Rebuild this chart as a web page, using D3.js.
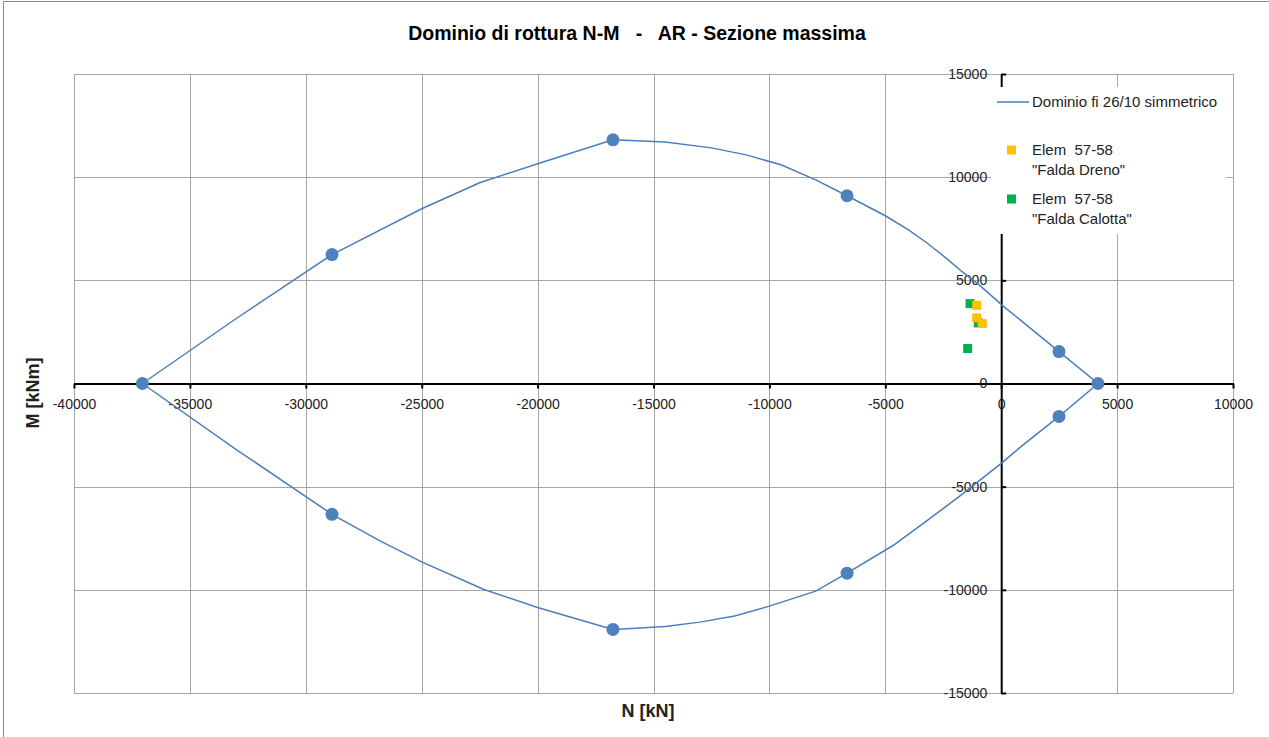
<!DOCTYPE html>
<html>
<head>
<meta charset="utf-8">
<script src="https://cdn.jsdelivr.net/npm/d3@7"></script>
<style>
  body { margin: 0; background: #fff; }
  svg { display: block; font-family: "Liberation Sans", Arial, sans-serif; }
</style>
</head>
<body>
<script>
// domain curve (N [kN], M [kNm])
const domainN = [-37050, -33000, -28870, -25000, -22500, -20000, -16750, -14500, -12500, -11000, -9500, -8000, -6650,
  -5000, -4000, -3200, -2400, -1700, -1000, 100, 2494, 4176,
  2494, 800, 0, -1777, -3214, -4650, -6650, -8000, -10000, -11500, -13000, -14500, -15580, -16750,
  -20000, -22340, -25000, -26800, -28870, -33000, -37050];
const domainM = [0, 3150, 6250, 8470, 9730, 10650, 11810, 11710, 11420, 11080, 10600, 9870, 9100,
  8130, 7450, 6810, 6100, 5430, 4830, 3740, 1548, 0,
  -1597, -3110, -3870, -5450, -6660, -7840, -9194, -10065, -10790, -11270, -11565, -11780, -11855, -11920,
  -10855, -9970, -8645, -7630, -6339, -3200, 0];

// highlighted points on the domain
const keyN = [-37050, -28870, -16750, -6650, 2494, 4176, 2494, -6650, -16750, -28870];
const keyM = [0, 6250, 11810, 9100, 1548, 0, -1597, -9194, -11920, -6339];

// Elem 57-58 "Falda Dreno"
const drenoN = [-1057, -1057, -816];
const drenoM = [3789, 3179, 2903];
// Elem 57-58 "Falda Calotta"
const calottaN = [-1345, -988, -1446];
const calottaM = [3871, 2937, 1694];

const xTicks = [-40000, -35000, -30000, -25000, -20000, -15000, -10000, -5000, 0, 5000, 10000];
const yTicks = [-15000, -10000, -5000, 0, 5000, 10000, 15000];

const width = 1269, height = 737;
const margin = {top: 74, right: 36, bottom: 44, left: 74};

const svg = d3.select('body').append('svg')
  .attr('width', width)
  .attr('height', height);

// outer chart border
svg.append('rect')
  .attr('x', 3.5).attr('y', 1.5)
  .attr('width', width).attr('height', height)
  .attr('fill', 'none').attr('stroke', '#8c8c8c');

const x = d3.scaleLinear().domain([-40000, 10000]).range([margin.left, width - margin.right]);
const y = d3.scaleLinear().domain([-15000, 15000]).range([height - margin.bottom, margin.top]);

const fmt = d => String(d);

// grid
svg.append('g')
  .selectAll('line')
  .data(xTicks)
  .join('line')
  .attr('x1', d => Math.round(x(d)) + 0.5).attr('x2', d => Math.round(x(d)) + 0.5)
  .attr('y1', y(15000)).attr('y2', y(-15000))
  .attr('stroke', '#a6a6a6');

svg.append('g')
  .selectAll('line')
  .data(yTicks)
  .join('line')
  .attr('y1', d => Math.round(y(d)) + 0.5).attr('y2', d => Math.round(y(d)) + 0.5)
  .attr('x1', x(-40000)).attr('x2', x(10000))
  .attr('stroke', '#a6a6a6');

// x axis through M = 0
const xAxis = svg.append('g')
  .attr('transform', 'translate(0,' + y(0) + ')')
  .call(d3.axisBottom(x).tickValues(xTicks).tickFormat(fmt).tickSize(5).tickPadding(11).tickSizeOuter(0));
xAxis.select('.domain').attr('stroke', '#000').attr('stroke-width', 2);
xAxis.selectAll('.tick line').attr('stroke', '#000').attr('stroke-width', 2);
xAxis.selectAll('text').attr('font-size', 14).attr('fill', '#222');

// y axis through N = 0 (ticks to the right, labels to the left)
const yAxis = svg.append('g')
  .attr('transform', 'translate(' + x(0) + ',0)')
  .call(d3.axisRight(y).tickValues(yTicks).tickSize(5).tickSizeOuter(0).tickFormat(''));
yAxis.select('.domain').attr('stroke', '#000').attr('stroke-width', 2);
yAxis.selectAll('.tick line').attr('stroke', '#000').attr('stroke-width', 2);

const yLabels = svg.append('g')
  .attr('transform', 'translate(' + x(0) + ',0)')
  .call(d3.axisLeft(y).tickValues(yTicks).tickFormat(fmt).tickSize(0).tickPadding(14));
yLabels.select('.domain').remove();
yLabels.selectAll('text').attr('font-size', 14).attr('fill', '#222');

// domain line
const line = d3.line().x(d => x(d[0])).y(d => y(d[1]));
svg.append('path')
  .datum(domainN.map((n, i) => [n, domainM[i]]))
  .attr('d', line)
  .attr('fill', 'none')
  .attr('stroke', '#4a7ebb')
  .attr('stroke-width', 1.5);

svg.append('g')
  .selectAll('circle')
  .data(keyN.map((n, i) => [n, keyM[i]]))
  .join('circle')
  .attr('cx', d => x(d[0]))
  .attr('cy', d => y(d[1]))
  .attr('r', 6.5)
  .attr('fill', '#4f81bd');

// load points
function squares(ns, ms, color) {
  svg.append('g')
    .selectAll('rect')
    .data(ns.map((n, i) => [n, ms[i]]))
    .join('rect')
    .attr('x', d => x(d[0]) - 4.5)
    .attr('y', d => y(d[1]) - 4.5)
    .attr('width', 9).attr('height', 9)
    .attr('fill', color);
}
squares(calottaN, calottaM, '#00b050');
squares(drenoN, drenoM, '#ffc000');

// legend
const lg = svg.append('g');
lg.append('rect')
  .attr('x', 991).attr('y', 87).attr('width', 235).attr('height', 147)
  .attr('fill', '#fff');
lg.append('line')
  .attr('x1', 997).attr('x2', 1029).attr('y1', 102).attr('y2', 102)
  .attr('stroke', '#4a7ebb').attr('stroke-width', 1.5);
lg.append('text').attr('x', 1032).attr('y', 107).attr('font-size', 15).attr('fill', '#222')
  .text('Dominio fi 26/10 simmetrico');
const legItems = [
  {color: '#ffc000', y: 150, l1: 'Elem  57-58', l2: '"Falda Dreno"'},
  {color: '#00b050', y: 199, l1: 'Elem  57-58', l2: '"Falda Calotta"'}
];
legItems.forEach(it => {
  lg.append('rect').attr('x', 1007).attr('y', it.y - 4.5).attr('width', 9).attr('height', 9).attr('fill', it.color);
  lg.append('text').attr('x', 1032).attr('y', it.y + 5).attr('font-size', 15).attr('fill', '#222')
    .attr('xml:space', 'preserve').text(it.l1);
  lg.append('text').attr('x', 1032).attr('y', it.y + 25).attr('font-size', 15).attr('fill', '#222').text(it.l2);
});

// titles
svg.append('text')
  .attr('x', 637).attr('y', 40)
  .attr('text-anchor', 'middle')
  .attr('font-size', 19.5).attr('font-weight', 'bold').attr('fill', '#000')
  .attr('xml:space', 'preserve')
  .text('Dominio di rottura N-M   -   AR - Sezione massima');

svg.append('text')
  .attr('x', 648).attr('y', 717)
  .attr('text-anchor', 'middle')
  .attr('font-size', 18).attr('font-weight', 'bold').attr('fill', '#222')
  .text('N [kN]');

svg.append('text')
  .attr('transform', 'translate(39,393) rotate(-90)')
  .attr('text-anchor', 'middle')
  .attr('font-size', 18).attr('font-weight', 'bold').attr('fill', '#222')
  .text('M [kNm]');
</script>
</body>
</html>
